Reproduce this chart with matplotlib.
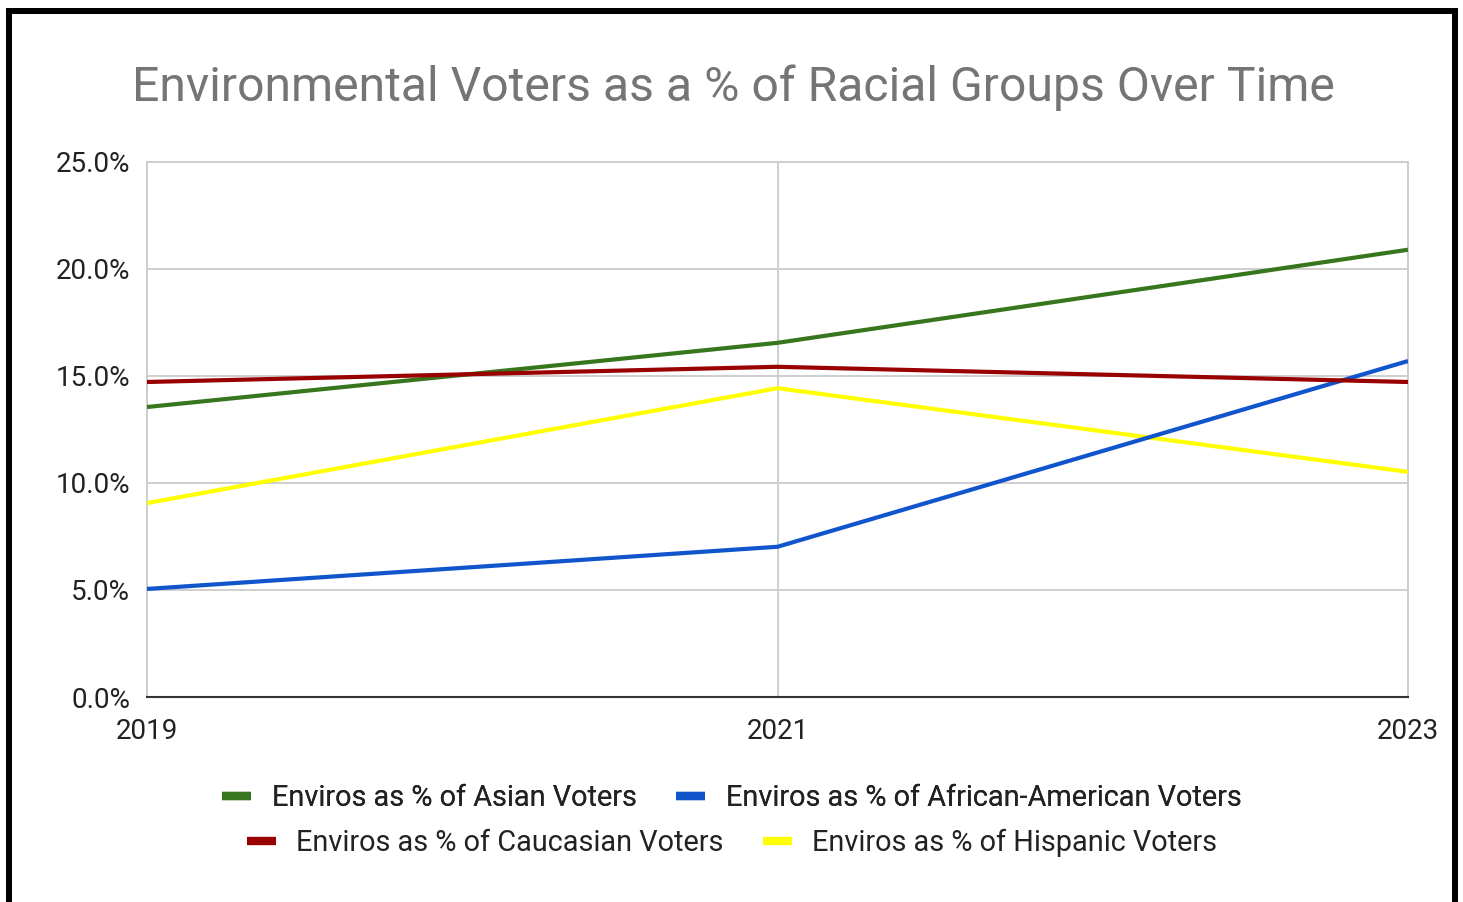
import matplotlib
matplotlib.use("Agg")
import matplotlib.pyplot as plt
from matplotlib.lines import Line2D
from matplotlib.patches import Rectangle
from matplotlib.ticker import FuncFormatter

years = [2019, 2021, 2023]
asian = [13.55, 16.55, 20.9]
african_american = [5.05, 7.02, 15.7]
caucasian = [14.72, 15.43, 14.72]
hispanic = [9.06, 14.43, 10.52]

series_labels = [
    "Enviros as % of Asian Voters",
    "Enviros as % of African-American Voters",
    "Enviros as % of Caucasian Voters",
    "Enviros as % of Hispanic Voters",
]
series_colors = ["#38761d", "#1155cc", "#990000", "#ffff00"]
yticks = [0, 5, 10, 15, 20, 25]

plt.rcParams['font.family'] = ['Roboto', 'DejaVu Sans']

W, H = 1463, 902
fig = plt.figure(figsize=(W / 100, H / 100), dpi=100)
fig.patch.set_facecolor("white")

ax = fig.add_axes([147 / W, 1 - 697 / H, (1408 - 147) / W, (697 - 162) / H])

data = [asian, african_american, caucasian, hispanic]
order = [3, 1, 0, 2]
for i in order:
    ax.plot(years, data[i], color=series_colors[i], lw=3.0, solid_capstyle="butt", zorder=3)

ax.set_xlim(2019, 2023)
ax.set_ylim(0, 25)
ax.set_xticks(years)
ax.set_yticks(yticks)
ax.yaxis.set_major_formatter(FuncFormatter(lambda v, p: f"{v:.1f}%"))
ax.grid(True, color="#cccccc", lw=1.3, zorder=0)
for s in ["left", "right", "top"]:
    ax.spines[s].set_color("#cccccc")
    ax.spines[s].set_linewidth(1.3)
ax.spines["bottom"].set_color("#333333")
ax.spines["bottom"].set_linewidth(1.5)
ax.tick_params(length=0, labelsize=20, colors="#222222")
ax.tick_params(axis="y", pad=12)
ax.tick_params(axis="x", pad=15)

fig.text(733 / W, 1 - 88 / H, "Environmental Voters as a % of Racial Groups Over Time",
         ha="center", va="center", fontsize=34.7, color="#757575")

def handle(c):
    return Line2D([0], [0], color=c, lw=6, solid_capstyle="butt")

leg_kw = dict(ncol=2, frameon=False, fontsize=20.8, handlelength=1.0,
              handletextpad=0.72, columnspacing=1.35, loc="center",
              labelcolor="#222222", borderpad=0, borderaxespad=0)
leg1 = fig.legend([handle(series_colors[0]), handle(series_colors[1])],
                  series_labels[0:2], bbox_to_anchor=(732 / W, 1 - 798 / H), **leg_kw)
fig.add_artist(leg1)
leg2 = fig.legend([handle(series_colors[2]), handle(series_colors[3])],
                  series_labels[2:4], bbox_to_anchor=(732 / W, 1 - 843 / H), **leg_kw)

# outer black frame
fig.add_artist(Rectangle((6 / W, -0.05), 6 / W, 1 - 8 / H + 0.05, transform=fig.transFigure,
                         facecolor="black", edgecolor="none"))
fig.add_artist(Rectangle((1452 / W, -0.05), 6 / W, 1 - 8 / H + 0.05, transform=fig.transFigure,
                         facecolor="black", edgecolor="none"))
fig.add_artist(Rectangle((6 / W, 1 - 14 / H), 1452 / W, 6 / H, transform=fig.transFigure,
                         facecolor="black", edgecolor="none"))

fig.savefig("out.png", dpi=100)
